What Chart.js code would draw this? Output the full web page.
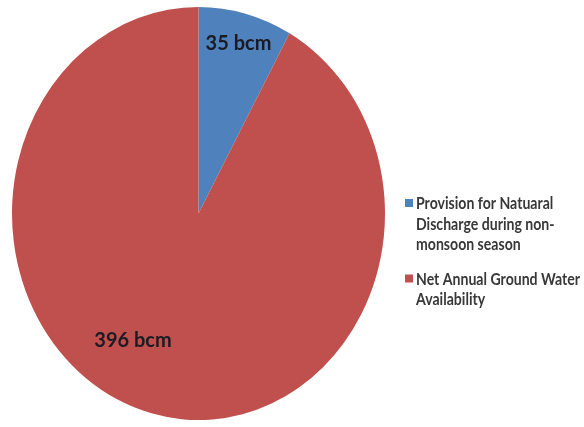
<!DOCTYPE html>
<html>
<head>
<meta charset="utf-8">
<script src="https://cdn.jsdelivr.net/npm/chart.js@4.4.0/dist/chart.umd.min.js"></script>
<style>
    html, body { margin: 0; padding: 0; background: #fff; }
    #wrap { width: 584px; height: 427px; position: relative; }
</style>
</head>
<body>
<div id="wrap"><canvas id="pieChart"></canvas></div>
<script>
    // Data
    const categories = [
        ['Provision for Natuaral', 'Discharge during non-', 'monsoon season'],
        ['Net Annual Ground Water', 'Availability']
    ];
    const values = [35, 396];
    const valueLabels = ['35 bcm', '396 bcm'];
    const colors = ['#4F81BD', '#C0504D'];

    // The picture is a bit taller than wide, so stretch the pie vertically
    const STRETCH = 206.5 / 186.5;

    // where each value label sits (angle offset in degrees, fraction of radius)
    const labelPos = [
        { dAngle: 0, r: 0.85 },
        { dAngle: 15, r: 0.71 }
    ];

    const stretchPlugin = {
        id: 'stretch',
        beforeDatasetsDraw(chart) {
            const arc = chart.getDatasetMeta(0).data[0];
            const ctx = chart.ctx;
            ctx.save();
            ctx.translate(arc.x, arc.y);
            ctx.scale(1, STRETCH);
            ctx.translate(-arc.x, -arc.y);
        },
        afterDatasetsDraw(chart) {
            chart.ctx.restore();
        }
    };

    const labelPlugin = {
        id: 'valueLabels',
        afterDatasetsDraw(chart) {
            const ctx = chart.ctx;
            ctx.save();
            ctx.font = 'bold 20px Lato, "Open Sans", sans-serif';
            ctx.fillStyle = '#1b1b24';
            ctx.textAlign = 'center';
            ctx.textBaseline = 'middle';
            chart.getDatasetMeta(0).data.forEach((arc, i) => {
                const p = arc.getProps(['x', 'y', 'startAngle', 'endAngle', 'outerRadius'], true);
                const mid = (p.startAngle + p.endAngle) / 2 + labelPos[i].dAngle * Math.PI / 180;
                const r = p.outerRadius * labelPos[i].r;
                const x = p.x + Math.cos(mid) * r;
                const y = p.y + Math.sin(mid) * r * STRETCH;
                ctx.fillText(valueLabels[i], x, y);
            });
            ctx.restore();
        }
    };

    // Legend on the right, wrapped text like the original (narrow, Calibri-like)
    const legendPlugin = {
        id: 'sideLegend',
        afterDraw(chart) {
            const ctx = chart.ctx;
            ctx.save();
            ctx.font = 'bold 17.5px Lato, "Open Sans", sans-serif';
            ctx.textBaseline = 'alphabetic';
            ctx.textAlign = 'left';
            const x0 = 405;
            const tx = x0 + 11;
            const lineH = 20.5;
            // squeeze text so the longest line ends near the right edge
            const squeeze = 164 / ctx.measureText('Net Annual Ground Water').width;
            let y = 209;
            categories.forEach((lines, i) => {
                ctx.fillStyle = colors[i];
                ctx.fillRect(x0, y - 10, 8, 8);
                ctx.fillStyle = '#383838';
                lines.forEach((t, j) => {
                    ctx.save();
                    ctx.translate(tx, y + j * lineH);
                    ctx.scale(squeeze, 1);
                    ctx.fillText(t, 0, 0);
                    ctx.restore();
                });
                y += lines.length * lineH + 14;
            });
            ctx.restore();
        }
    };

    const chart = new Chart(document.getElementById('pieChart'), {
        type: 'pie',
        data: {
            labels: categories.map(c => c.join(' ')),
            datasets: [{
                data: values,
                backgroundColor: colors,
                borderWidth: 0
            }]
        },
        options: {
            responsive: true,
            maintainAspectRatio: false,
            animation: false,
            layout: {
                padding: { left: 12, right: 199, top: 27, bottom: 27 }
            },
            plugins: {
                legend: { display: false },
                tooltip: { enabled: false }
            }
        },
        plugins: [stretchPlugin, labelPlugin, legendPlugin]
    });
</script>
</body>
</html>
